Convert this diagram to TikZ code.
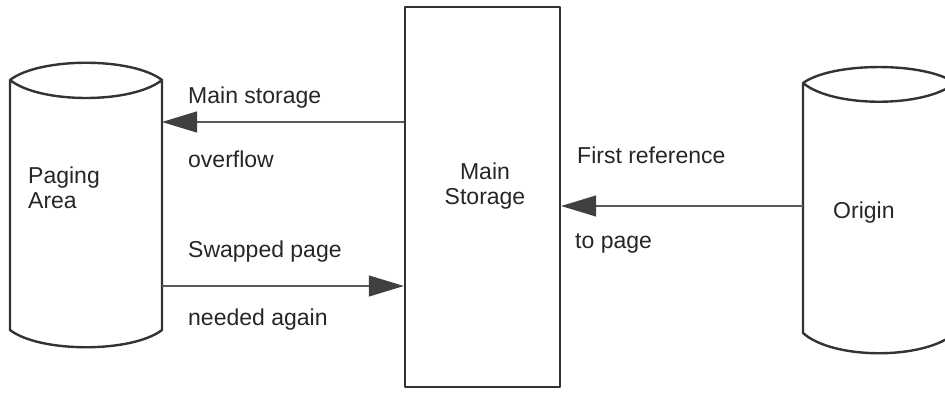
\documentclass[tikz,border=0pt]{standalone}
\usepackage{fontspec}
\setmainfont{Liberation Sans}
\usetikzlibrary{arrows.meta}
\begin{document}
\begin{tikzpicture}[x=1pt,y=-1pt,
  outline/.style={draw=black!80, line width=2.4pt, line join=round},
  conn/.style={draw=black!65, line width=1.2pt, -{Triangle[length=35pt,width=21pt,color=black!75,fill=black!75]}},
  lbl/.style={font=\fontsize{23}{25}\selectfont, text=black!85, inner sep=0pt, align=left}]
\useasboundingbox (0,0) rectangle (945,396);
\clip (0,0) rectangle (945,396);
% Paging area cylinder
\draw[outline] (10,80) .. controls (40,57) and (132,57) .. (162,80)
  .. controls (132,104) and (40,104) .. (10,80) -- (10,330)
  .. controls (40,353) and (132,353) .. (162,330) -- (162,80);
\node[inner sep=0, outer sep=0, minimum width=152pt, minimum height=250pt] (pa) at (86,205) {};
\node[lbl, anchor=north west] (patext) at (28,167) {Paging\\Area};
% Origin cylinder
\draw[outline] (803,83) .. controls (833,61.7) and (925,61.7) .. (955,83)
  .. controls (925,108) and (833,108) .. (803,83) -- (803,333)
  .. controls (833,360) and (925,360) .. (955,333) -- (955,83);
\node[inner sep=0, outer sep=0, minimum width=152pt, minimum height=250pt] (or) at (879,208) {};
\node[lbl, anchor=base west] (ortext) at (833,218) {Origin};
% Main storage
\node[outline, inner sep=0, minimum width=155pt, minimum height=380pt] (ms) at (482.5,197) {};
\node[lbl, align=center, anchor=north] (mstext) at (485,163) {Main\\Storage};
% connectors
\draw[conn] (ms.west |- 0,122) -- (pa.east |- 0,122);
\draw[conn] (pa.east |- 0,286) -- (ms.west |- 0,286);
\draw[conn] (or.west |- 0,206) -- (ms.east |- 0,206);
% labels
\node[lbl, anchor=base west] (l1) at (188,103) {Main storage};
\node[lbl, anchor=base west] (l2) at (188,167) {overflow};
\node[lbl, anchor=base west] (l3) at (188,257) {Swapped page};
\node[lbl, anchor=base west] (l4) at (188,325) {needed again};
\node[lbl, anchor=base west] (l5) at (577,163) {First reference};
\node[lbl, anchor=base west] (l6) at (575,248) {to page};
\end{tikzpicture}
\end{document}
